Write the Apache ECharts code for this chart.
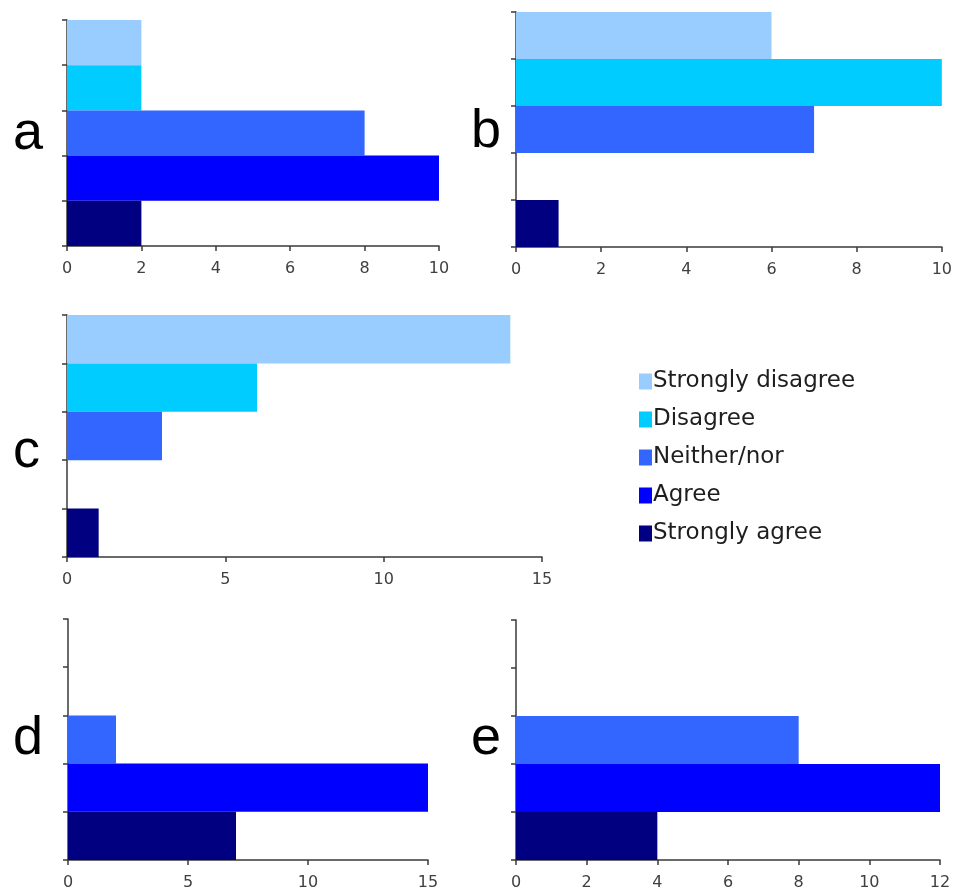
<!DOCTYPE html>
<html>
<head>
<meta charset="utf-8">
<script src="https://cdn.jsdelivr.net/npm/echarts@6/dist/echarts.min.js"></script>
<style>
html,body{margin:0;padding:0;background:#fff;}
#main{width:955px;height:892px;}
</style>
</head>
<body>
<div id="main"></div>
<script>
// Response categories (top to bottom) and their colours
const categories = ['Strongly disagree', 'Disagree', 'Neither/nor', 'Agree', 'Strongly agree'];
const catColors = ['#99CCFF', '#00CCFF', '#3366FF', '#0000FF', '#000080'];

// Panel values (counts), in category order
const panelLabels = ['a', 'b', 'c', 'd', 'e'];
const valuesA = [2, 2, 8, 10, 2];
const valuesB = [6, 10, 7, 0, 1];
const valuesC = [14, 6, 3, 0, 1];
const valuesD = [0, 0, 2, 15, 7];
const valuesE = [0, 0, 8, 12, 4];

// x-axis scales per panel
const axisMaxes = [10, 10, 15, 15, 12];
const axisIntervals = [2, 2, 5, 5, 2];

const panels = [valuesA, valuesB, valuesC, valuesD, valuesE];

const grids = [
  {left: 67, top: 20, width: 372, height: 226},
  {left: 516, top: 12, width: 428, height: 235},
  {left: 67, top: 315, width: 475, height: 242},
  {left: 68, top: 619, width: 360, height: 241},
  {left: 516, top: 620, width: 424, height: 240}
];
const letterPos = [
  {left: 8, top: 102},
  {left: 466, top: 100},
  {left: 8, top: 420},
  {left: 8, top: 707},
  {left: 466, top: 707}
];

const axisColor = '#3a3a3a';
const labelFont = 'DejaVu Sans';

const option = {
  backgroundColor: '#ffffff',
  animation: false,
  title: panelLabels.map((t, i) => ({
    text: t,
    left: letterPos[i].left,
    top: letterPos[i].top,
    textStyle: {fontFamily: 'Liberation Sans', fontSize: 54, fontWeight: 'normal', color: '#000'}
  })),
  legend: {
    orient: 'vertical',
    left: 634,
    top: 365,
    itemGap: 15,
    itemWidth: 13,
    itemHeight: 16,
    icon: 'rect',
    data: categories,
    textStyle: {fontFamily: labelFont, fontSize: 23, color: '#1e1e1e', padding: [0, 0, 0, -4]}
  },
  grid: grids,
  xAxis: grids.map((g, i) => ({
    type: 'value',
    gridIndex: i,
    min: 0,
    max: axisMaxes[i],
    interval: axisIntervals[i],
    splitLine: {show: false},
    axisLine: {show: true, lineStyle: {color: axisColor, width: 1.5}},
    axisTick: {show: true, length: 5, lineStyle: {color: axisColor, width: 1.5}},
    axisLabel: {fontFamily: labelFont, fontSize: 16, color: '#404040', margin: 15}
  })),
  yAxis: grids.map((g, i) => ({
    type: 'category',
    gridIndex: i,
    inverse: true,
    data: categories,
    axisLine: {show: true, lineStyle: {color: axisColor, width: 1.5}},
    axisTick: {show: true, length: 5, lineStyle: {color: axisColor, width: 1.5}},
    axisLabel: {show: false}
  })),
  series: []
};

panels.forEach((vals, p) => {
  categories.forEach((cat, c) => {
    option.series.push({
      type: 'bar',
      name: cat,
      xAxisIndex: p,
      yAxisIndex: p,
      stack: 'panel' + p,
      barWidth: '100%',
      itemStyle: {color: catColors[c]},
      data: categories.map((_, k) => (k === c && vals[k] > 0) ? vals[k] : '-')
    });
  });
});

const chart = echarts.init(document.getElementById('main'), null, {renderer: 'canvas'});
chart.setOption(option);
</script>
</body>
</html>
